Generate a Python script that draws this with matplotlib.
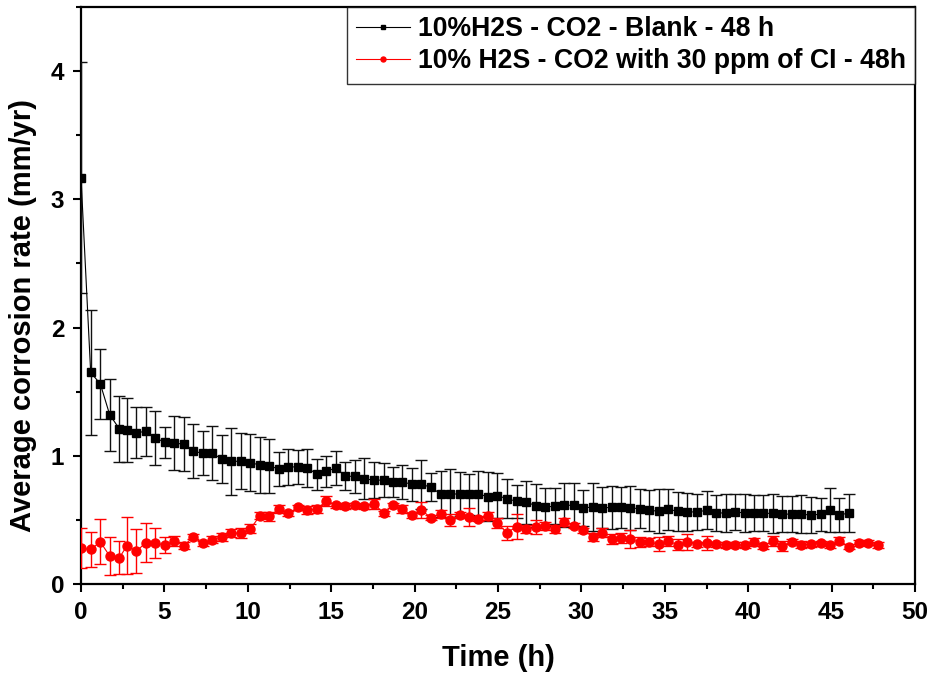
import matplotlib
matplotlib.use("Agg")
import matplotlib.pyplot as plt
from matplotlib.ticker import MultipleLocator

plt.rcParams['font.family'] = ['Liberation Sans', 'DejaVu Sans']
plt.rcParams['font.weight'] = 'bold'

# ---- data ----
time_h = [0.00, 0.58, 1.16, 1.72, 2.30, 2.76, 3.32, 3.88, 4.45, 5.02, 5.58, 6.16, 6.73, 7.30, 7.85,
          8.45, 9.01, 9.59, 10.15, 10.73, 11.29, 11.87, 12.43, 13.01, 13.57, 14.15, 14.71, 15.29, 15.85,
          16.43, 16.98, 17.58, 18.15, 18.71, 19.26, 19.83, 20.40, 20.98, 21.56, 22.14, 22.70, 23.26, 23.82,
          24.38, 24.96, 25.54, 26.12, 26.70, 27.28, 27.84, 28.40, 28.98, 29.56, 30.11, 30.70, 31.25, 31.83,
          32.37, 32.93, 33.51, 34.07, 34.65, 35.21, 35.77, 36.35, 36.93, 37.51, 38.07, 38.65, 39.21, 39.79,
          40.33, 40.91, 41.49, 42.04, 42.63, 43.18, 43.76, 44.35, 44.90, 45.46, 46.04, 46.62, 47.20, 47.76]

blank_rate = [3.17,
              1.65, 1.56, 1.32, 1.21, 1.20, 1.18, 1.19, 1.14, 1.105, 1.10, 1.09, 1.035, 1.02, 1.02,
              0.975, 0.957, 0.957, 0.946, 0.928, 0.92, 0.897, 0.913, 0.913, 0.905, 0.856, 0.879, 0.905, 0.84,
              0.84, 0.82, 0.81, 0.81, 0.796, 0.796, 0.778, 0.778, 0.754, 0.702, 0.704, 0.70, 0.70, 0.702,
              0.681, 0.689, 0.665, 0.645, 0.637, 0.611, 0.601, 0.606, 0.614, 0.614, 0.593, 0.601, 0.593, 0.598,
              0.598, 0.593, 0.587, 0.575, 0.567, 0.583, 0.567, 0.562, 0.562, 0.575, 0.554, 0.554, 0.562, 0.554, 0.551,
              0.551, 0.551, 0.546, 0.544, 0.544, 0.538, 0.544, 0.577, 0.538, 0.554]
blank_err = [0.90,
             0.49, 0.27, 0.28, 0.26, 0.25, 0.20, 0.19, 0.21, 0.12, 0.21, 0.21, 0.21, 0.17, 0.21,
             0.19, 0.26, 0.22, 0.22, 0.22, 0.21, 0.13, 0.14, 0.13, 0.15, 0.12, 0.12, 0.13, 0.11,
             0.13, 0.16, 0.14, 0.13, 0.12, 0.13, 0.13, 0.19, 0.11, 0.18, 0.19, 0.17, 0.16, 0.18,
             0.19, 0.175, 0.15, 0.13, 0.17, 0.17, 0.15, 0.14, 0.17, 0.17, 0.14, 0.19, 0.16, 0.17,
             0.16, 0.17, 0.15, 0.16, 0.17, 0.16, 0.15, 0.15, 0.14, 0.15, 0.14, 0.15, 0.14, 0.15, 0.14,
             0.14, 0.15, 0.14, 0.14, 0.15, 0.14, 0.13, 0.17, 0.13, 0.15]

ci_rate = [0.278, 0.27, 0.328, 0.218, 0.205, 0.299, 0.255, 0.322, 0.32, 0.304, 0.335, 0.299, 0.367, 0.317, 0.346,
           0.367, 0.398, 0.395, 0.429, 0.533, 0.528, 0.585, 0.551, 0.598, 0.577, 0.583, 0.65, 0.614, 0.608,
           0.614, 0.606, 0.624, 0.551, 0.614, 0.587, 0.536, 0.577, 0.517, 0.548, 0.499, 0.538, 0.525, 0.509,
           0.528, 0.473, 0.40, 0.447, 0.427, 0.442, 0.452, 0.427, 0.481, 0.455, 0.419, 0.369, 0.40, 0.351,
           0.361, 0.349, 0.325, 0.328, 0.31, 0.333, 0.307, 0.328, 0.31, 0.317, 0.31, 0.304, 0.307, 0.304, 0.33,
           0.296, 0.335, 0.299, 0.328, 0.307, 0.31, 0.317, 0.302, 0.338, 0.289, 0.32, 0.322, 0.304]
ci_err = [0.155, 0.135, 0.175, 0.145, 0.13, 0.22, 0.17, 0.15, 0.115, 0.06, 0.04, 0.025, 0.02, 0.02, 0.03,
          0.03, 0.03, 0.04, 0.035, 0.03, 0.035, 0.03, 0.02, 0.02, 0.035, 0.03, 0.04, 0.02, 0.02,
          0.02, 0.02, 0.04, 0.02, 0.02, 0.03, 0.02, 0.06, 0.02, 0.03, 0.045, 0.02, 0.07, 0.02,
          0.03, 0.04, 0.055, 0.10, 0.03, 0.055, 0.03, 0.03, 0.03, 0.02, 0.02, 0.03, 0.035, 0.04,
          0.04, 0.07, 0.04, 0.03, 0.055, 0.04, 0.04, 0.06, 0.02, 0.055, 0.02, 0.02, 0.02, 0.02, 0.03,
          0.02, 0.04, 0.04, 0.02, 0.03, 0.02, 0.02, 0.02, 0.03, 0.02, 0.02, 0.02, 0.02]

labels = ["10%H2S - CO2 - Blank - 48 h", "10% H2S - CO2 with 30 ppm of CI - 48h"]
x_ticks = [0, 5, 10, 15, 20, 25, 30, 35, 40, 45, 50]
y_ticks = [0, 1, 2, 3, 4]

# ---- figure ----
fig = plt.figure(figsize=(9.3, 6.8), dpi=100)
ax = fig.add_axes([0.0871, 0.1412, 0.8968, 0.8485])

n_b = len(blank_rate)
eb1 = ax.errorbar(time_h[:n_b], blank_rate, yerr=blank_err, color='black', marker='s',
                  markersize=5.8, linewidth=0.8, elinewidth=1.0, capsize=4, capthick=1.0,
                  ecolor='#111111', zorder=3)
eb2 = ax.errorbar(time_h[:len(ci_rate)], ci_rate, yerr=ci_err, color='#ff0000', marker='o',
                  markersize=6.5, linewidth=0.8, elinewidth=1.0, capsize=4, capthick=1.0,
                  ecolor='#ff0000', zorder=4)

ax.set_xlim(0, 50)
ax.set_ylim(0, 4.5)
ax.set_xticks(x_ticks)
ax.set_yticks(y_ticks)
ax.xaxis.set_minor_locator(MultipleLocator(2.5))
ax.yaxis.set_minor_locator(MultipleLocator(0.5))
ax.tick_params(which='major', direction='out', length=6, width=1.5, labelsize=17.5, pad=6)
ax.tick_params(which='minor', direction='out', length=3.5, width=1.5)
for lab in ax.get_xticklabels() + ax.get_yticklabels():
    lab.set_fontweight('bold')
for sp in ax.spines.values():
    sp.set_linewidth(1.6)

ax.set_xlabel("Time (h)", fontsize=21, fontweight='bold', labelpad=15)
ax.set_ylabel("Average corrosion rate (mm/yr)", fontsize=21, fontweight='bold')
ax.yaxis.set_label_coords(-0.053, 0.465)

leg = ax.legend(handles=[eb1[0], eb2[0]], labels=labels, loc='upper right',
                bbox_to_anchor=(1.0, 1.0), borderaxespad=0, fontsize=19.2, frameon=True,
                fancybox=False, edgecolor='black', markerscale=0.55, handlelength=2.0,
                handletextpad=0.3, labelspacing=0.22, borderpad=0.35)
leg.get_frame().set_linewidth(1.0)
for t in leg.get_texts():
    t.set_fontweight('bold')

fig.savefig("out.png", dpi=100)
